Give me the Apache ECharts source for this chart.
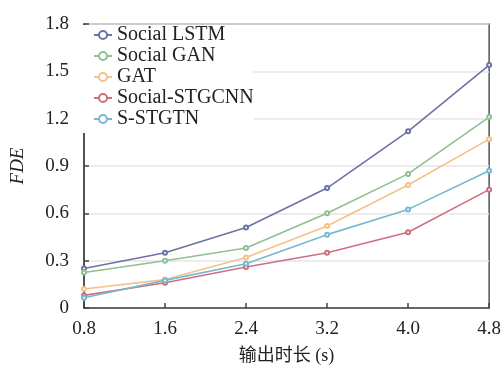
<!DOCTYPE html>
<html><head><meta charset="utf-8">
<script src="https://cdn.jsdelivr.net/npm/echarts@6/dist/echarts.min.js"></script>
<style>html,body{margin:0;padding:0;background:#fff}#c{width:504px;height:370px}</style>
</head><body><div id="c"></div>
<script>
const categories = ['0.8', '1.6', '2.4', '3.2', '4.0', '4.8'];
const seriesNames = ['Social LSTM', 'Social GAN', 'GAT', 'Social-STGCNN', 'S-STGTN'];
const socialLSTM   = [0.25, 0.35, 0.51, 0.76, 1.12, 1.54];
const socialGAN    = [0.225, 0.30, 0.38, 0.60, 0.85, 1.21];
const gat          = [0.12, 0.18, 0.32, 0.52, 0.78, 1.07];
const socialSTGCNN = [0.08, 0.16, 0.26, 0.35, 0.48, 0.75];
const sSTGTN       = [0.065, 0.175, 0.28, 0.465, 0.625, 0.87];
const yTicks = { min: 0, max: 1.8, interval: 0.3 };
const colors = ['#6c72a6', '#8fc08f', '#f3c289', '#cf6f7e', '#76b8cf'];
const values = [socialLSTM, socialGAN, gat, socialSTGCNN, sSTGTN];

const font = "'Liberation Serif', 'Times New Roman', serif";
const chart = echarts.init(document.getElementById('c'), null, { renderer: 'canvas' });
chart.setOption({
  animation: false,
  backgroundColor: '#fff',
  color: colors,
  grid: { left: 82, right: 14, top: 24, bottom: 62, show: true, borderColor: '#555', borderWidth: 1.5, backgroundColor: 'transparent' },
  legend: {
    orient: 'vertical', left: 83, top: 25,
    padding: [0, 0, 4, 10],
    backgroundColor: '#fff',
    itemWidth: 18, itemHeight: 10, itemGap: 1,
    textStyle: { fontFamily: font, fontSize: 20, color: '#222', lineHeight: 20, width: 102, overflow: 'none' },
    data: seriesNames
  },
  xAxis: {
    type: 'category', data: categories, boundaryGap: false,
    name: '输出时长 (s)', nameLocation: 'middle', nameGap: 39,
    nameTextStyle: { fontFamily: "'Liberation Serif', 'Noto Sans CJK SC', serif", fontSize: 18, color: '#222' },
    axisLine: { lineStyle: { color: '#444', width: 1.5 } },
    axisTick: { inside: true, length: 5, lineStyle: { color: '#444', width: 1.5 } },
    axisLabel: { fontFamily: font, fontSize: 19, color: '#222', margin: 12 },
    splitLine: { show: false }
  },
  yAxis: {
    type: 'value', min: yTicks.min, max: yTicks.max, interval: yTicks.interval,
    name: 'FDE', nameLocation: 'middle', nameGap: 57, nameRotate: 90,
    nameTextStyle: { fontFamily: font, fontSize: 19, fontStyle: 'italic', color: '#222' },
    axisLine: { show: true, lineStyle: { color: '#444', width: 1.5 } },
    axisTick: { show: true, inside: true, length: 5, lineStyle: { color: '#444', width: 1.5 } },
    axisLabel: { fontFamily: font, fontSize: 19, color: '#222', margin: 15 },
    splitLine: { show: true, lineStyle: { color: '#e6e6e6', width: 1.5 } }
  },
  series: seriesNames.map((n, i) => ({
    name: n, type: 'line', data: values[i],
    symbol: 'emptyCircle', symbolSize: 4,
    lineStyle: { width: 1.6, color: colors[i] },
    itemStyle: { color: colors[i], borderWidth: 1.3 }
  }))
});
</script></body></html>
